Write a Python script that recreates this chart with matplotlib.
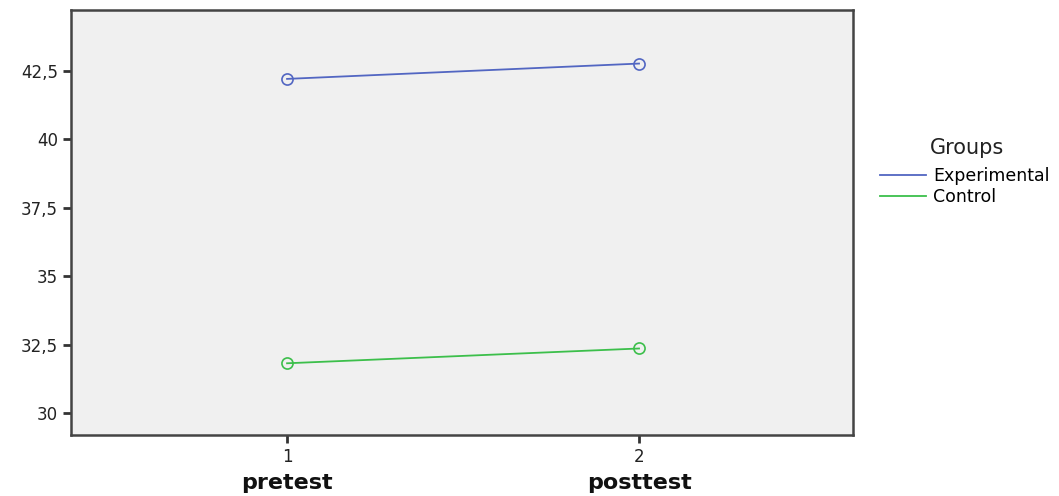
import numpy as np
from matplotlib import pyplot as plt
from matplotlib.lines import Line2D
import matplotlib.transforms as mtransforms

# dados
tempos = [1, 2]
nomes_tempo = ['pretest', 'posttest']
experimental = [42.21, 42.77]
controle = [31.82, 32.36]
grupos = ['Experimental', 'Control']
cores = ['#5266c2', '#3cbf4b']

fig = plt.figure(figsize=(10.59, 4.96), dpi=100)
ax = fig.add_axes([0.067, 0.123, 0.7385, 0.857])
ax.set_facecolor('#f0f0f0')

for serie, cor in zip([experimental, controle], cores):
    ax.plot(tempos, serie, color=cor, lw=1.3, marker='o', ms=8,
            mfc='none', mec=cor, mew=1.2)

ax.set_xlim(0.386, 2.608)
ax.set_ylim(29.2, 44.73)
ax.set_xticks(tempos)
ax.set_xticklabels(['1', '2'])
yt = [30, 32.5, 35, 37.5, 40, 42.5]
ax.set_yticks(yt)
ax.set_yticklabels([('%g' % v).replace('.', ',') for v in yt])
ax.tick_params(direction='out', length=6, width=2, color='#333333',
               labelsize=12, labelcolor='#222222')

for s in ax.spines.values():
    s.set_color('#444444')
    s.set_linewidth(1.8)

trans = mtransforms.blended_transform_factory(ax.transData, fig.transFigure)
for x, nome in zip(tempos, nomes_tempo):
    ax.text(x, 0.026, nome, transform=trans, ha='center', va='center',
            fontsize=16, fontweight='bold', color='#111111')

# legenda
fig.text(967 / 1059, 1 - 148 / 496, 'Groups', ha='center', va='center',
         fontsize=15, color='#222222')
handles = [Line2D([0], [0], color=c, lw=1.3) for c in cores]
leg = fig.legend(handles, grupos, loc='center left',
                 bbox_to_anchor=(0.8215, 0.624), frameon=False,
                 fontsize=12.5, handlelength=2.65, handletextpad=0.4,
                 labelspacing=0.2, borderpad=0.3, borderaxespad=0.3)

fig.savefig('out.png', dpi=100)
